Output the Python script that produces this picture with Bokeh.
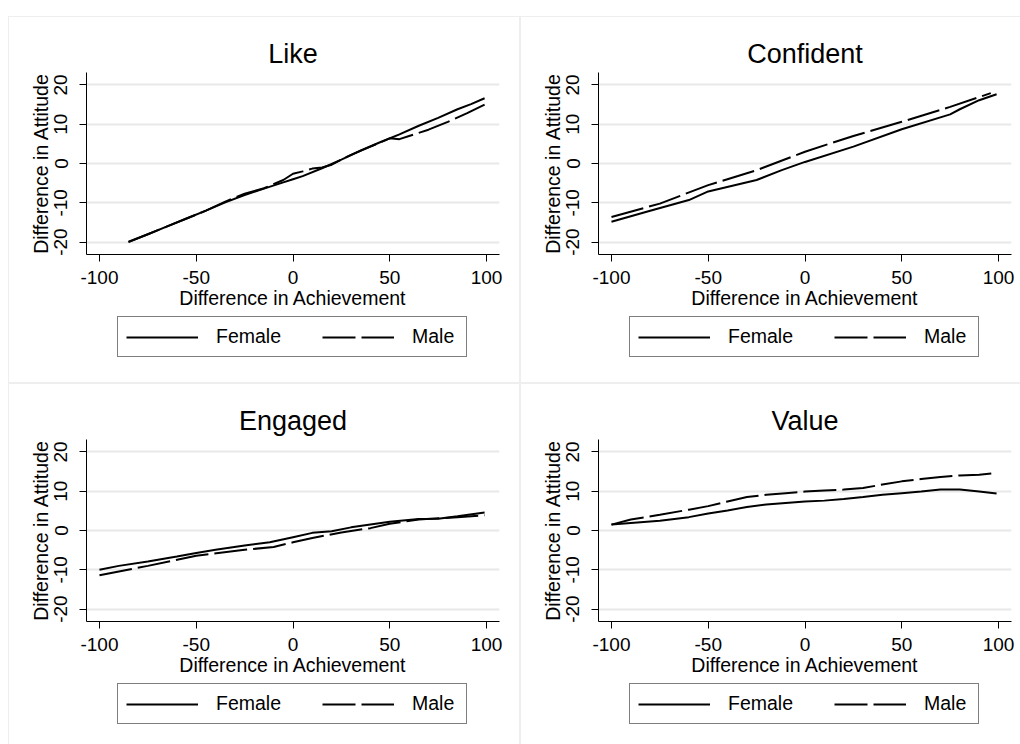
from bokeh.plotting import figure
from bokeh.models import Legend, LegendItem, FixedTicker, Spacer, Row, Column
from bokeh.embed import file_html
from bokeh.resources import INLINE

FONT = "Liberation Sans"

# ---- data ----
like_f_x = [-85, -75, -65, -55, -45, -35, -25, -15, -5, 0, 5, 15, 25, 35, 45, 55, 65, 75, 85, 92, 99]
like_f_y = [-20.0, -18.0, -16.0, -14.0, -12.0, -9.9, -8.0, -6.4, -4.8, -4.0, -3.2, -1.2, 1.0, 3.3, 5.4, 7.4, 9.6, 11.6, 13.8, 15.1, 16.6]
like_m_x = [-85, -75, -65, -55, -45, -35, -25, -15, -5, 0, 5, 10, 15, 20, 25, 30, 40, 50, 55, 60, 70, 80, 90, 99]
like_m_y = [-19.9, -18.0, -16.0, -14.0, -12.0, -9.7, -7.7, -6.3, -4.2, -2.6, -2.0, -1.3, -1.0, -0.3, 1.0, 2.2, 4.3, 6.4, 6.2, 7.0, 8.6, 10.6, 12.8, 15.0]

conf_f_x = [-100, -80, -60, -50, -25, -12, 0, 25, 50, 75, 80, 90, 99]
conf_f_y = [-14.8, -12.0, -9.3, -7.1, -4.2, -1.7, 0.4, 4.3, 8.7, 12.5, 13.8, 16.1, 17.6]
conf_m_x = [-100, -75, -50, -25, 0, 25, 50, 75, 96]
conf_m_y = [-13.6, -10.2, -5.5, -1.7, 3.0, 7.0, 10.6, 14.4, 17.9]

eng_f_x = [-100, -90, -75, -60, -50, -40, -25, -12, 0, 10, 20, 30, 40, 50, 65, 75, 85, 99]
eng_f_y = [-10.0, -9.0, -7.9, -6.6, -5.7, -4.9, -3.8, -3.0, -1.7, -0.6, -0.2, 0.8, 1.5, 2.2, 2.9, 3.0, 3.6, 4.6]
eng_m_x = [-100, -75, -50, -25, -10, 0, 10, 25, 40, 50, 65, 75, 85, 99]
eng_m_y = [-11.4, -9.0, -6.4, -4.9, -4.2, -3.0, -1.9, -0.5, 0.6, 1.7, 2.8, 3.1, 3.4, 3.9]

val_f_x = [-100, -75, -60, -50, -40, -30, -20, -10, 0, 10, 20, 30, 40, 50, 60, 70, 80, 90, 99]
val_f_y = [1.5, 2.5, 3.4, 4.3, 5.1, 6.0, 6.6, 7.0, 7.4, 7.6, 8.0, 8.5, 9.1, 9.5, 9.9, 10.4, 10.4, 9.9, 9.4]
val_m_x = [-100, -90, -75, -60, -50, -40, -30, -20, -10, 0, 10, 20, 30, 40, 50, 60, 70, 80, 90, 99]
val_m_y = [1.5, 2.8, 4.0, 5.3, 6.2, 7.4, 8.5, 9.1, 9.5, 9.9, 10.2, 10.4, 10.8, 11.7, 12.5, 13.1, 13.6, 14.0, 14.2, 14.6]

titles = ["Like", "Confident", "Engaged", "Value"]
series_labels = ["Female", "Male"]
x_ticks = [-100, -50, 0, 50, 100]
y_ticks = [-20, -10, 0, 10, 20]
x_label = "Difference in Achievement"
y_label = "Difference in Attitude"

panels = [
    (like_f_x, like_f_y, like_m_x, like_m_y),
    (conf_f_x, conf_f_y, conf_m_x, conf_m_y),
    (eng_f_x, eng_f_y, eng_m_x, eng_m_y),
    (val_f_x, val_f_y, val_m_x, val_m_y),
]

MAIN_BOTTOM = 62
MAIN_H = 55 + 182 + MAIN_BOTTOM
DASH = "33 6"


def make_panel(i, right_border, panel_height):
    fx, fy, mx, my = panels[i]
    width = 77 + 413 + right_border
    p = figure(frame_width=413, frame_height=182, output_backend="svg", toolbar_location=None,
               x_range=(-106.7, 106.7), y_range=(-23.15, 23.15),
               min_border_left=77, min_border_top=55, min_border_right=right_border,
               min_border_bottom=MAIN_BOTTOM)
    p.title.text = titles[i]
    p.title.align = "center"
    p.title.text_font = FONT
    p.title.text_font_size = "27px"
    p.title.text_font_style = "normal"
    p.title.text_color = "black"
    p.title.standoff = 7
    p.outline_line_color = None
    p.xgrid.visible = False
    p.ygrid.grid_line_color = "#e8e8e8"
    p.ygrid.grid_line_width = 2
    for ax, ticks in ((p.xaxis[0], x_ticks), (p.yaxis[0], y_ticks)):
        ax.ticker = FixedTicker(ticks=ticks)
        ax.major_label_overrides = {t: str(t) for t in ticks}
        ax.major_tick_out = 7
        ax.major_tick_in = 0
        ax.minor_tick_line_color = None
        ax.axis_line_color = "black"
        ax.major_tick_line_color = "black"
        ax.major_label_text_font = FONT
        ax.major_label_text_font_size = "19px"
        ax.major_label_text_color = "black"
        ax.axis_label_text_font = FONT
        ax.axis_label_text_font_size = "19.5px"
        ax.axis_label_text_font_style = "normal"
        ax.axis_label_text_color = "black"
    p.xaxis[0].axis_label = x_label
    p.yaxis[0].axis_label = y_label
    p.yaxis[0].major_label_orientation = "vertical"
    p.xaxis[0].major_label_standoff = 9
    p.xaxis[0].axis_label_standoff = 0
    p.yaxis[0].major_label_standoff = 12
    p.yaxis[0].axis_label_standoff = 0

    p.line(fx, fy, line_color="black", line_width=2)
    p.line(mx, my, line_color="black", line_width=2, line_dash=DASH)

    # legend strip under the plot (same series, kept outside its view)
    leg_h = panel_height - MAIN_H
    q = figure(width=width, height=leg_h, output_backend="svg", toolbar_location=None,
               x_range=(0, 1), y_range=(1000, 1001),
               x_axis_location=None, y_axis_location=None,
               min_border_left=77, min_border_right=right_border,
               min_border_top=0, min_border_bottom=0)
    q.outline_line_color = None
    q.xgrid.visible = False
    q.ygrid.visible = False
    r1 = q.line(fx, fy, line_color="black", line_width=2)
    r2 = q.line(mx, my, line_color="black", line_width=2, line_dash=DASH)
    legend = Legend(items=[LegendItem(label=series_labels[0], renderers=[r1]),
                           LegendItem(label=series_labels[1], renderers=[r2])],
                    orientation="horizontal", location=(31, leg_h - 41),
                    border_line_color="black", border_line_width=1,
                    background_fill_color="white", background_fill_alpha=1,
                    label_text_font=FONT, label_text_font_size="19.5px",
                    label_text_color="black",
                    glyph_width=72, glyph_height=20, label_standoff=18,
                    label_width=46, spacing=41, padding=8, margin=0)
    q.add_layout(legend, "center")
    return Column(children=[p, q], styles={"background-color": "white"})


c1 = make_panel(0, 20, 365)
c2 = make_panel(1, 9, 365)
c3 = make_panel(2, 20, 360)
c4 = make_panel(3, 9, 360)

grid = Column(children=[Row(children=[c1, c2], spacing=2),
                        Row(children=[c3, c4], spacing=2)], spacing=2)

gray_box = Column(children=[Spacer(height=1), Row(children=[Spacer(width=1), grid])],
                  styles={"background-color": "#eeeeee"})
root = Column(children=[Spacer(height=16), Row(children=[Spacer(width=8), gray_box])])

open("out.html", "w").write(file_html(root, INLINE))
